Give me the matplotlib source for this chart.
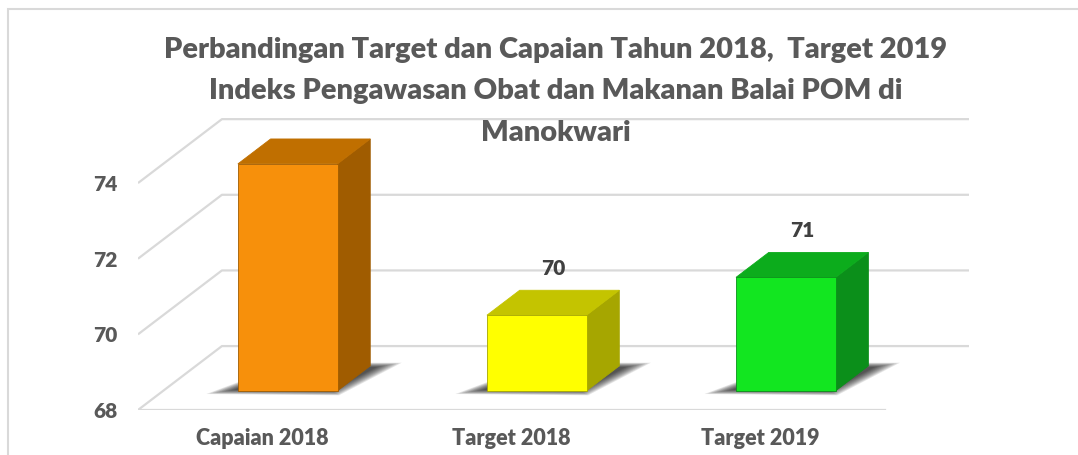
import numpy as np
import matplotlib
matplotlib.use("Agg")
import matplotlib.pyplot as plt
from matplotlib.patches import Polygon, Rectangle

# data
categories = ["Capaian 2018", "Target 2018", "Target 2019"]
values = [74, 70, 71]
value_labels = ["", "70", "71"]   # label for first bar is not shown in the source
y_ticks = [68, 70, 72, 74]
title_lines = ["Perbandingan Target dan Capaian Tahun 2018,  Target 2019",
               "Indeks Pengawasan Obat dan Makanan Balai POM di",
               "Manokwari"]

front_colors = ["#F7900B", "#FFFF00", "#12E620"]
top_colors = ["#C06F00", "#C4C400", "#0CAC1C"]
side_colors = ["#A05C00", "#A6A600", "#0B8F1A"]

plt.rcParams['font.family'] = ['Lato', 'DejaVu Sans']
W = 'heavy'

y_min = 68
DX, DY = 0.337, 1.69   # oblique offset of the back wall (data units)
d0, d1 = 0.30, 0.69    # front / back depth of the bars
bar_w = 0.40
grid_c = "#D9D9D9"
text_c = "#595959"


def P(x, v, d):  # project (category, value, depth) onto the 2d axes
    return (x + d * DX, v + d * DY)


fig = plt.figure(figsize=(10.78, 4.55), dpi=100)
ax = fig.add_axes([0.128, 0.0989, 0.771, 0.665])
ax.set_xlim(-0.5, 2.5 + DX)
ax.set_ylim(y_min, 76)

# walls: side wall diagonals + back wall lines
for t in y_ticks:
    ax.plot([-0.5, -0.5 + DX, 2.5 + DX], [t, t + DY, t + DY],
            color=grid_c, lw=1.6, zorder=1, solid_capstyle='butt')
ax.plot([-0.5, 2.5], [y_min, y_min], color=grid_c, lw=1.6, zorder=1)

for i, v in enumerate(values):
    xl, xr = i - bar_w / 2, i + bar_w / 2
    # blurred shadow on the floor: stacked, shrinking translucent polygons
    base = np.array([P(xl - 0.11, y_min, d0 - 0.05),
                     P(xr + 0.03, y_min, d0 - 0.07),
                     P(xr + 0.11, y_min, d1 + 0.05),
                     P(xl + 0.06, y_min, d1 + 0.05)])
    cen = base.mean(axis=0)
    for k in range(10):
        s = 1.0 - 0.03 * k
        ax.add_patch(Polygon(cen + (base - cen) * s, closed=True,
                             facecolor='black', edgecolor='none',
                             alpha=0.1, zorder=2))
    front = [P(xl, y_min, d0), P(xr, y_min, d0), P(xr, v, d0), P(xl, v, d0)]
    top = [P(xl, v, d0), P(xr, v, d0), P(xr, v, d1), P(xl, v, d1)]
    side = [P(xr, y_min, d0), P(xr, y_min, d1), P(xr, v, d1), P(xr, v, d0)]
    ax.add_patch(Polygon(side, closed=True, facecolor=side_colors[i],
                         edgecolor=side_colors[i], lw=0.6, zorder=3))
    ax.add_patch(Polygon(top, closed=True, facecolor=top_colors[i],
                         edgecolor=top_colors[i], lw=0.6, zorder=3))
    ax.add_patch(Polygon(front, closed=True, facecolor=front_colors[i],
                         edgecolor=side_colors[i], lw=0.6, zorder=4))
    if value_labels[i]:
        ax.annotate(value_labels[i], P(i, v, 0.5), xytext=(0, 24.5),
                    textcoords='offset points', ha='center', va='center',
                    fontsize=15, color="#404040", fontweight=W)

ax.set_yticks(y_ticks)
ax.set_xticks(range(len(categories)), categories)
ax.tick_params(axis='y', length=0, pad=15, labelsize=15, labelcolor=text_c)
ax.tick_params(axis='x', length=0, pad=13, labelsize=15.5, labelcolor=text_c)
for lbl in ax.get_xticklabels() + ax.get_yticklabels():
    lbl.set_fontweight(W)
for s in ax.spines.values():
    s.set_visible(False)
ax.set_facecolor('none')

for j, line in enumerate(title_lines):
    fig.text(556 / 1078, 1 - (50 + 41.5 * j) / 455, line, ha='center',
             va='center', fontsize=20.9, color=text_c, fontweight=W)

# chart frame (left and top edges visible)
fig.add_artist(Rectangle((8 / 1078, -0.5), 2, 1.5 - 9 / 455,
                         transform=fig.transFigure, fill=False,
                         edgecolor=grid_c, lw=1.5))

fig.savefig("out.png", dpi=100)
